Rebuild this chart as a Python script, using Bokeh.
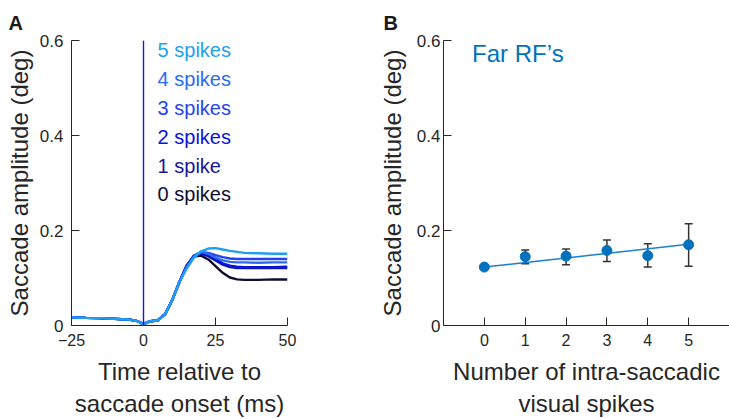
from bokeh.plotting import figure
from bokeh.layouts import row
from bokeh.models import Range1d, FixedTicker, Whisker, ColumnDataSource, Span, TeeHead
from bokeh.core.properties import value
from bokeh.embed import file_html
from bokeh.resources import INLINE

FONT = "Liberation Sans"
AX = "#262626"

# ---------------- data: panel A ----------------
time_ms = [-25, -20, -15, -10, -5, -2.5, -1, 0, 1, 2.5, 5, 7.5, 10, 12.5,
           15, 17.5, 20, 22.5, 25, 27.5, 30, 32.5, 35, 40, 45, 50]
pre = [0.017, 0.016, 0.0155, 0.014, 0.0125, 0.010, 0.006, 0.001, 0.006, 0.009,
       0.011, 0.024, 0.054, 0.092]
post_0 = [0.127, 0.145, 0.147, 0.139, 0.125, 0.111, 0.101, 0.097, 0.096, 0.096, 0.097, 0.097]
post_1 = [0.126, 0.147, 0.151, 0.146, 0.137, 0.128, 0.123, 0.121, 0.121, 0.121, 0.121, 0.121]
post_2 = [0.125, 0.147, 0.153, 0.149, 0.140, 0.131, 0.126, 0.124, 0.123, 0.123, 0.123, 0.124]
post_3 = [0.124, 0.146, 0.155, 0.153, 0.148, 0.144, 0.141, 0.140, 0.140, 0.140, 0.140, 0.140]
post_4 = [0.123, 0.145, 0.155, 0.151, 0.143, 0.137, 0.134, 0.133, 0.133, 0.132, 0.133, 0.133]
post_5 = [0.120, 0.143, 0.156, 0.162, 0.163, 0.160, 0.157, 0.155, 0.153, 0.152, 0.151, 0.151]
series_labels = ["0 spikes", "1 spike", "2 spikes", "3 spikes", "4 spikes", "5 spikes"]
series_colors = ["#0E0E33", "#1515A0", "#0B12DC", "#1F44EE", "#2A6BF2", "#1E9FF2"]
label_y = [0.276, 0.335, 0.396, 0.457, 0.518, 0.579]

# ---------------- data: panel B ----------------
n_spikes = [0, 1, 2, 3, 4, 5]
amp_mean = [0.123, 0.145, 0.146, 0.158, 0.147, 0.170]
amp_upper = [0.125, 0.159, 0.161, 0.180, 0.172, 0.214]
amp_lower = [0.121, 0.130, 0.128, 0.135, 0.123, 0.125]
fit_x = [0, 5]
fit_y = [0.123, 0.171]

y_ticks = [0, 0.2, 0.4, 0.6]
y_tick_labels = {0: "0", 0.2: "0.2", 0.4: "0.4", 0.6: "0.6"}


def style(p, xlabel, label_standoff, axis_standoff, panel_letter, letter_offset):
    p.outline_line_color = None
    p.grid.visible = False
    p.background_fill_color = "white"
    p.border_fill_color = "white"
    for ax in (p.xaxis[0], p.yaxis[0]):
        ax.axis_line_color = AX
        ax.axis_line_width = 1
        ax.major_tick_line_color = AX
        ax.major_tick_in = 8
        ax.major_tick_out = 0
        ax.minor_tick_line_color = None
        ax.major_label_text_font = FONT
        ax.major_label_text_color = AX
        ax.axis_label_text_font = FONT
        ax.axis_label_text_font_size = "24px"
        ax.axis_label_text_font_style = "normal"
        ax.axis_label_text_color = AX
    p.yaxis[0].major_label_text_font_size = "17px"
    p.xaxis[0].major_label_text_font_size = "16px"
    p.yaxis[0].ticker = FixedTicker(ticks=y_ticks)
    p.yaxis[0].major_label_overrides = y_tick_labels
    p.yaxis[0].axis_label = "Saccade amplitude (deg)"
    p.yaxis[0].major_label_standoff = label_standoff
    p.yaxis[0].axis_label_standoff = axis_standoff
    p.xaxis[0].axis_label = xlabel
    p.xaxis[0].major_label_standoff = 8
    p.xaxis[0].axis_label_standoff = 9
    p.title.text = panel_letter
    p.title.text_font = FONT
    p.title.text_font_size = "20px"
    p.title.text_font_style = "bold"
    p.title.text_color = "#1a1a1a"
    p.title.align = "left"
    p.title.offset = letter_offset
    p.title.standoff = 14


# ---------------- panel A ----------------
pa = figure(width=365, height=419, output_backend="svg", toolbar_location=None,
            x_range=Range1d(-25, 50), y_range=Range1d(0, 0.6),
            min_border_left=71, min_border_right=78, min_border_top=40, min_border_bottom=94)
style(pa, "Time relative to\nsaccade onset (ms)", 8, 4, "A", -63)
pa.xaxis[0].ticker = FixedTicker(ticks=[-25, 0, 25, 50])

pa.add_layout(Span(location=0, dimension="height", line_color="#1414F0", line_width=1.4))

posts = [post_0, post_1, post_2, post_3, post_4, post_5]
for post, col in zip(posts, series_colors):
    pa.line(time_ms, pre + post, line_color=col, line_width=2.4)

pa.text(x=[4.9] * 6, y=label_y, text=series_labels, text_color=series_colors,
        text_font=value(FONT), text_font_size="20px", text_baseline="middle", text_align="left")

# ---------------- panel B ----------------
pb = figure(width=364, height=419, output_backend="svg", toolbar_location=None,
            x_range=Range1d(-1, 6), y_range=Range1d(0, 0.6),
            min_border_left=78, min_border_right=0, min_border_top=40, min_border_bottom=94)
style(pb, "Number of intra-saccadic\nvisual spikes", 3, 8, "B", -60)
pb.xaxis[0].ticker = FixedTicker(ticks=n_spikes)

src = ColumnDataSource(dict(x=n_spikes, y=amp_mean, up=amp_upper, lo=amp_lower))
pb.line(fit_x, fit_y, line_color="#1a7fcf", line_width=1.5)
pb.add_layout(Whisker(source=src, base="x", upper="up", lower="lo", dimension="height",
                      line_color="#333333", line_width=1.5,
                      upper_head=TeeHead(size=8, line_color="#333333", line_width=1.5),
                      lower_head=TeeHead(size=8, line_color="#333333", line_width=1.5)))
pb.scatter("x", "y", source=src, size=10, fill_color="#0072BD", line_color="#0072BD")

pb.text(x=[-0.3], y=[0.573], text=["Far RF\u2019s"], text_color="#0072BD",
        text_font=value(FONT), text_font_size="24px", text_baseline="middle", text_align="left")

layout = row(pa, pb)
open("out.html", "w").write(file_html(layout, INLINE))
